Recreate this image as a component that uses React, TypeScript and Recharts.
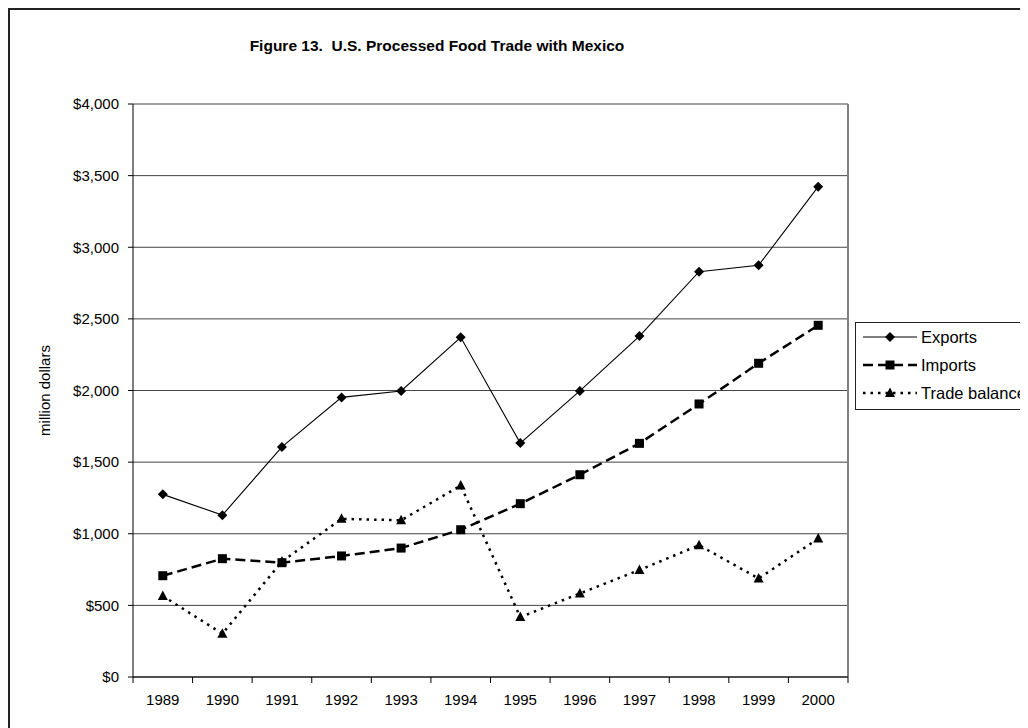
import React from "react";
import { CartesianGrid, Legend, Line, LineChart, ReferenceLine, XAxis, YAxis } from "recharts";

const years = [1989, 1990, 1991, 1992, 1993, 1994, 1995, 1996, 1997, 1998, 1999, 2000];
const exportsValues = [1275, 1130, 1606, 1952, 1997, 2371, 1633, 1997, 2380, 2829, 2874, 3423];
const importsValues = [707, 826, 798, 845, 900, 1028, 1210, 1412, 1631, 1906, 2190, 2455];
const balanceValues = [566, 302, 806, 1104, 1094, 1336, 418, 583, 747, 920, 688, 966];
const yTicks = [0, 500, 1000, 1500, 2000, 2500, 3000, 3500, 4000];

// labels sit on the years, tick marks sit halfway between them
const xTicks = [...years.flatMap((y) => [y - 0.5, y]), 2000.5];

const data = years.map((year, i) => ({
  year,
  exports: exportsValues[i],
  imports: importsValues[i],
  balance: balanceValues[i],
}));

const FONT = '"Liberation Sans", Arial, sans-serif';

type DotProps = { cx?: number; cy?: number; index?: number };

function Diamond({ cx = 0, cy = 0, index }: DotProps) {
  return (
    <polygon
      key={`dia-${index}`}
      points={`${cx},${cy - 5} ${cx + 5},${cy} ${cx},${cy + 5} ${cx - 5},${cy}`}
      fill="#000"
    />
  );
}

function Square({ cx = 0, cy = 0, index }: DotProps) {
  return <rect key={`sq-${index}`} x={cx - 4.5} y={cy - 4.5} width={9} height={9} fill="#000" />;
}

function Triangle({ cx = 0, cy = 0, index }: DotProps) {
  return (
    <polygon
      key={`tri-${index}`}
      points={`${cx},${cy - 5.5} ${cx + 5},${cy + 4} ${cx - 5},${cy + 4}`}
      fill="#000"
    />
  );
}

const series = [
  { key: "exports", name: "Exports", width: 1.1, dash: undefined, Marker: Diamond },
  { key: "imports", name: "Imports", width: 2.5, dash: "10 5", Marker: Square },
  { key: "balance", name: "Trade balance", width: 2.5, dash: "2.5 5", Marker: Triangle },
];

function YearTick({ x = 0, y = 0, payload }: { x?: number; y?: number; payload?: { value: number } }) {
  const v = payload ? payload.value : 0;
  if (!Number.isInteger(v)) {
    return <line x1={x} x2={x} y1={y - 6} y2={y} stroke="#000" />;
  }
  return (
    <text x={x} y={y} dy={22} textAnchor="middle" fontSize={15} fill="#000">
      {v}
    </text>
  );
}

function LegendBox() {
  return (
    <div style={{ border: "1px solid #222", background: "#fff", width: 200, padding: "0 0 2px 0" }}>
      {series.map((s) => (
        <div key={s.key} style={{ display: "flex", alignItems: "center", height: 28 }}>
          <svg width={62} height={20}>
            <line x1={7} x2={61} y1={10} y2={10} stroke="#000" strokeWidth={s.width} strokeDasharray={s.dash} />
            <s.Marker cx={34} cy={10} />
          </svg>
          <span style={{ fontSize: 16.5, marginLeft: 3, color: "#000", whiteSpace: "nowrap" }}>{s.name}</span>
        </div>
      ))}
    </div>
  );
}

function YLabel({ viewBox }: { viewBox?: { x: number; y: number; width: number; height: number } }) {
  if (!viewBox) return null;
  const x = viewBox.x - 9;
  const y = viewBox.y + viewBox.height / 2;
  return (
    <text x={x} y={y} transform={`rotate(-90 ${x} ${y})`} textAnchor="middle" dominantBaseline="central" fontSize={15} fill="#000">
      million dollars
    </text>
  );
}

export default function App() {
  return (
    <div style={{ position: "relative", width: 1020, height: 720, overflow: "hidden", fontFamily: FONT }}>
      <div
        style={{
          position: "absolute",
          left: 0,
          top: 0,
          width: 1060,
          height: 760,
          borderLeft: "2px solid #222",
          borderTop: "2px solid #222",
          boxSizing: "border-box",
        }}
      />
      <div
        style={{
          position: "absolute",
          left: 429 - 300,
          width: 600,
          top: 29,
          textAlign: "center",
          fontWeight: "bold",
          fontSize: 15.5,
          color: "#000",
        }}
      >
        Figure 13.&nbsp; U.S. Processed Food Trade with Mexico
      </div>
      <div style={{ position: "absolute", left: 0, top: 0 }}>
        <LineChart width={1020} height={720} data={data} margin={{ top: 96, right: 180, bottom: 21, left: 45 }}>
          <CartesianGrid vertical={false} stroke="#444" />
          <XAxis
            type="number"
            dataKey="year"
            domain={[1988.5, 2000.5]}
            ticks={xTicks}
            interval={0}
            tickLine={false}
            tickSize={6}
            tickMargin={0}
            height={30}
            axisLine={{ stroke: "#000" }}
            tick={<YearTick />}
          />
          <YAxis
            domain={[0, 4000]}
            ticks={yTicks}
            interval={0}
            width={80}
            tickSize={5}
            tickMargin={9}
            axisLine={{ stroke: "#000" }}
            tickLine={{ stroke: "#000" }}
            tick={{ fontSize: 15, fill: "#000" }}
            tickFormatter={(v: number) => "$" + v.toLocaleString("en-US")}
            label={<YLabel />}
          />
          <ReferenceLine x={2000.5} stroke="#808080" strokeWidth={2} />
          {series.map((s) => (
            <Line
              key={s.key}
              dataKey={s.key}
              name={s.name}
              type="linear"
              stroke="#000"
              strokeWidth={s.width}
              strokeDasharray={s.dash}
              dot={(p: DotProps) => <s.Marker key={`${s.key}-${p.index}`} {...p} />}
              activeDot={false}
              isAnimationActive={false}
            />
          ))}
          <Legend
            layout="vertical"
            align="center"
            verticalAlign="middle"
            content={<LegendBox />}
            wrapperStyle={{ left: 847, top: 314, width: 210 }}
          />
        </LineChart>
      </div>
    </div>
  );
}
